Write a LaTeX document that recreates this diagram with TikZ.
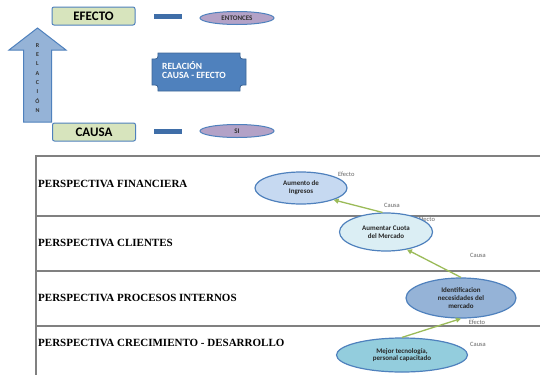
\documentclass[tikz,border=0pt]{standalone}
\usepackage{fontspec}
\setmainfont{Liberation Serif}
\newfontfamily\carl{Carlito}
\usetikzlibrary{shapes.geometric,arrows.meta}
\definecolor{boxblue}{HTML}{4F81BD}
\definecolor{greenfill}{HTML}{D7E4BD}
\definecolor{lav}{HTML}{B3A2C7}
\definecolor{arrowfill}{HTML}{95B3D7}
\definecolor{darkblue}{HTML}{3F6EA8}
\definecolor{gridgray}{HTML}{808080}
\definecolor{linkgreen}{HTML}{9BBB59}
\definecolor{eone}{HTML}{C6D9F1}
\definecolor{etwo}{HTML}{DBEEF4}
\definecolor{ethree}{HTML}{95B3D7}
\definecolor{efour}{HTML}{93CDDD}
\begin{document}
\begin{tikzpicture}[x=1pt,y=-1pt,
 greenbox/.style={draw=boxblue, line width=1pt, fill=greenfill, rounded corners=2pt, minimum width=83pt, minimum height=18pt, inner sep=0pt, font=\carl\bfseries\fontsize{13}{13}\selectfont},
 dashbar/.style={fill=darkblue, minimum width=28pt, minimum height=5pt, inner sep=0pt},
 smallell/.style={ellipse, draw=boxblue, line width=1pt, fill=lav, minimum width=74pt, minimum height=13pt, inner sep=0pt, font=\carl\bfseries\fontsize{7}{7}\selectfont, text=black!80},
 persp/.style={anchor=west, font=\bfseries\fontsize{11}{11}\selectfont, inner sep=0pt},
 bsc/.style={ellipse, draw=boxblue, line width=1.2pt, inner sep=0pt, align=center, font=\carl\bfseries\fontsize{7}{7.8}\selectfont, text=black!85},
 tag/.style={font=\carl\fontsize{6.5}{7}\selectfont, text=black!60, inner sep=0pt},
 link/.style={draw=linkgreen, line width=1.3pt, -{Triangle[length=5pt,width=5pt]}},
 grid/.style={draw=gridgray, line width=1.5pt}
]
\useasboundingbox (0,0) rectangle (540,375);
\fill[white] (0,0) rectangle (540,375);

% top part
\node[greenbox] (efecto) at (93.5,16) {EFECTO};
\node[greenbox] (causa) at (94,132) {CAUSA};
\node[dashbar] (d1) at (168,16.5) {};
\node[dashbar] (d2) at (168,131) {};
\node[smallell] (entonces) at (237,18) {ENTONCES};
\node[smallell] (si) at (237,131) {SI};

\filldraw[fill=arrowfill, draw=boxblue, line width=1pt] (23.5,122) -- (23.5,50) -- (9,50) -- (37.5,28) -- (66,50) -- (51.5,50) -- (51.5,122) -- cycle;
\node[font=\carl\bfseries\fontsize{6}{9.3}\selectfont, align=center, inner sep=0pt, text=black!80] (rel) at (37.5,78) {R\\E\\L\\A\\C\\I\\Ó\\N};

\filldraw[fill=boxblue, draw=boxblue!80!black, line width=0.8pt] (158,53) -- (240,53) .. controls (240,59) .. (246,59) -- (246,85) .. controls (240,85) .. (240,91) -- (158,91) .. controls (158,85) .. (152,85) -- (152,59) .. controls (158,59) .. (158,53) -- cycle;
\node[text=white, font=\carl\bfseries\fontsize{9.5}{9.5}\selectfont, align=left, anchor=west, inner sep=0pt] (rce) at (162,70) {RELACIÓN\\CAUSA - EFECTO};

% table
\draw[grid] (36,156) -- (540,156);
\draw[grid] (36,216) -- (540,216);
\draw[grid] (36,271) -- (540,271);
\draw[grid] (36,326) -- (540,326);
\draw[grid] (36,155.25) -- (36,375);

\node[persp] (pf) at (38,184) {PERSPECTIVA FINANCIERA};
\node[persp] (pc) at (38,243) {PERSPECTIVA CLIENTES};
\node[persp] (pp) at (38,298) {PERSPECTIVA PROCESOS INTERNOS};
\node[persp] (pd) at (38,343) {PERSPECTIVA CRECIMIENTO - DESARROLLO};

\node[tag, anchor=west] (t1) at (338,174) {Efecto};
\node[tag] (t2) at (392,205) {Causa};
\node[tag, anchor=west] (t3) at (418.5,219) {Efecto};
\node[tag] (t4) at (478,255) {Causa};
\node[tag] (t5) at (477,322) {Efecto};
\node[tag] (t6) at (478,344) {Causa};

\node[bsc, fill=eone, minimum width=92pt, minimum height=32pt] (ingresos) at (301,188) {Aumento de\\Ingresos};
\node[bsc, fill=etwo, minimum width=93pt, minimum height=38pt] (cuota) at (386,232) {Aumentar Cuota\\del Mercado};
\node[bsc, fill=ethree, minimum width=110pt, minimum height=40pt] (necesidades) at (461,298) {Identificacion\\necesidades del\\mercado};
\node[bsc, fill=efour, minimum width=131pt, minimum height=34pt] (tecnologia) at (402,355) {Mejor tecnología,\\personal capacitado};

\draw[link] (tecnologia.north) -- (necesidades.south);
\draw[link] (necesidades.north) -- (cuota.-40);
\draw[link] (cuota.100) -- (ingresos.-20);
\end{tikzpicture}
\end{document}
